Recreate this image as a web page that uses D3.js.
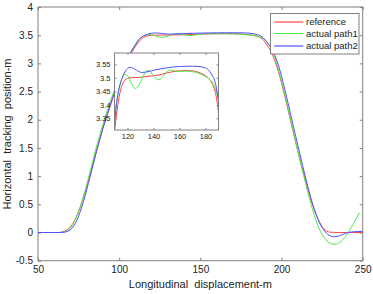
<!DOCTYPE html>
<html>
<head>
<meta charset="utf-8">
<script src="https://cdn.jsdelivr.net/npm/d3@7"></script>
<style>
  html, body { margin: 0; padding: 0; background: #fff; }
  text { font-family: Arial, "Liberation Sans", sans-serif; fill: #222; }
</style>
</head>
<body>
<svg id="chart" width="373" height="294"></svg>
<script>
// values
const refX = [50, 60, 63, 66, 70, 74, 78, 82, 86, 90, 94, 98, 102, 106, 110, 112, 114, 116, 118, 120, 122, 126, 130, 135, 140, 145, 150, 155, 160, 165, 170, 175, 180, 183, 185, 187, 189, 190, 192, 194, 198, 202, 206, 210, 214, 218, 222, 226, 230, 235, 240, 250];
const refY = [0, 0, 0, 0.02, 0.1, 0.3, 0.62, 1.02, 1.45, 1.85, 2.2, 2.55, 2.85, 3.1, 3.3, 3.38, 3.44, 3.475, 3.492, 3.498, 3.5, 3.501, 3.502, 3.505, 3.508, 3.512, 3.518, 3.523, 3.526, 3.527, 3.526, 3.52, 3.508, 3.495, 3.48, 3.455, 3.41, 3.37, 3.28, 3.18, 2.86, 2.42, 1.93, 1.45, 1.0, 0.6, 0.27, 0.07, 0.005, 0, 0, 0];

const path1X = [50, 60, 63, 66, 70, 74, 78, 82, 86, 90, 94, 98, 102, 106, 110, 112, 114, 116, 118, 120, 122, 124, 126, 128, 131, 133, 135, 137, 140, 143, 145, 148, 151, 153, 156, 160, 165, 170, 175, 180, 183, 185, 187, 189, 190, 192, 195, 198, 202, 206, 210, 214, 218, 222, 226, 230, 233, 236, 240, 244, 248];
const path1Y = [0, 0, 0, 0.01, 0.08, 0.3, 0.64, 1.07, 1.52, 1.92, 2.28, 2.6, 2.9, 3.14, 3.34, 3.42, 3.47, 3.5, 3.513, 3.508, 3.49, 3.47, 3.461, 3.468, 3.495, 3.515, 3.527, 3.525, 3.508, 3.493, 3.495, 3.51, 3.525, 3.529, 3.526, 3.524, 3.525, 3.523, 3.516, 3.505, 3.495, 3.485, 3.465, 3.44, 3.42, 3.34, 3.18, 2.9, 2.45, 1.95, 1.45, 0.97, 0.52, 0.15, -0.08, -0.19, -0.21, -0.17, -0.05, 0.14, 0.35];

const path2X = [50, 60, 63, 66, 70, 74, 78, 82, 86, 90, 94, 98, 102, 106, 110, 112, 114, 116, 118, 120, 122, 124, 127, 131, 135, 140, 145, 150, 155, 160, 165, 170, 175, 180, 183, 185, 187, 189, 190, 192, 195, 199, 203, 207, 211, 215, 219, 223, 227, 230, 232, 235, 238, 241, 245, 250];
const path2Y = [0, 0, 0, 0.005, 0.05, 0.22, 0.55, 0.98, 1.43, 1.85, 2.22, 2.56, 2.88, 3.14, 3.33, 3.42, 3.47, 3.5, 3.522, 3.535, 3.539, 3.537, 3.528, 3.52, 3.522, 3.528, 3.533, 3.537, 3.54, 3.542, 3.543, 3.543, 3.542, 3.537, 3.525, 3.51, 3.49, 3.445, 3.41, 3.34, 3.2, 2.88, 2.42, 1.92, 1.43, 0.95, 0.52, 0.2, 0.01, -0.06, -0.075, -0.065, -0.03, 0, 0.015, 0.02];

const seriesNames = ["reference", "actual path1", "actual path2"];
const seriesColors = ["#ff4646", "#48ea48", "#5252ff"];

const xTicks = [50, 100, 150, 200, 250];
const yTicks = [-0.5, 0, 0.5, 1, 1.5, 2, 2.5, 3, 3.5, 4];
const insetXTicks = [120, 140, 160, 180];
const insetYTicks = [3.35, 3.4, 3.45, 3.5, 3.55];

const series = [
  d3.zip(refX, refY),
  d3.zip(path1X, path1Y),
  d3.zip(path2X, path2Y)
];

var svg = d3.select("#chart");
const axisColor = "#808080";

let x = d3.scaleLinear().domain([50, 250]).range([38, 362.7]);
let y = d3.scaleLinear().domain([-0.5, 4]).range([260.7, 7]);

function fmt(d) { return String(d); }

// box ticks (inward), MATLAB style
function drawAxes(g, xs, ys, xt, yt, tickLen, fontSize, pad) {
  const [x0, x1] = xs.range();
  const [y0, y1] = ys.range();

  const bottom = g.append("g").attr("transform", `translate(0,${y0})`)
    .call(d3.axisBottom(xs).tickValues(xt).tickSize(-tickLen).tickPadding(pad).tickFormat(fmt));
  const top = g.append("g").attr("transform", `translate(0,${y1})`)
    .call(d3.axisTop(xs).tickValues(xt).tickSize(-tickLen).tickFormat(""));
  const left = g.append("g").attr("transform", `translate(${x0},0)`)
    .call(d3.axisLeft(ys).tickValues(yt).tickSize(-tickLen).tickPadding(pad).tickFormat(fmt));
  const right = g.append("g").attr("transform", `translate(${x1},0)`)
    .call(d3.axisRight(ys).tickValues(yt).tickSize(-tickLen).tickFormat(""));

  for (let a of [bottom, top, left, right]) {
    a.select(".domain").remove();
    a.selectAll("line").attr("stroke", axisColor);
    a.selectAll("text").attr("font-size", fontSize).attr("fill", "#222")
      .attr("font-family", "Arial, 'Liberation Sans', sans-serif");
  }

  g.append("rect")
    .attr("x", x0).attr("y", y1)
    .attr("width", x1 - x0).attr("height", y0 - y1)
    .attr("fill", "none").attr("stroke", axisColor).attr("stroke-width", 1);
}

// main plot
const mainG = svg.append("g");
drawAxes(mainG, x, y, xTicks, yTicks, 3, 10, 5);

let line = d3.line()
  .x(function (d) { return x(d[0]); })
  .y(function (d) { return y(d[1]); })
  .curve(d3.curveMonotoneX);

mainG.selectAll(".main-line")
  .data(series)
  .join("path")
  .attr("class", "main-line")
  .attr("d", line)
  .attr("fill", "none")
  .attr("stroke", function (d, i) { return seriesColors[i]; })
  .attr("stroke-width", 1);

// axis labels
svg.append("text")
  .attr("x", 200.4).attr("y", 287.5)
  .attr("text-anchor", "middle")
  .attr("font-size", 11)
  .style("white-space", "pre")
  .text("Longitudinal  displacement-m");

svg.append("text")
  .attr("transform", "translate(10.5,134) rotate(-90)")
  .attr("text-anchor", "middle")
  .attr("font-size", 11)
  .style("white-space", "pre")
  .text("Horizontal  tracking  position-m");

// inset
let xi = d3.scaleLinear().domain([110, 190]).range([114.5, 218.5]);
let yi = d3.scaleLinear().domain([3.307, 3.592]).range([130, 53]);

const insetG = svg.append("g");
insetG.append("rect")
  .attr("x", 114.5).attr("y", 53)
  .attr("width", 104).attr("height", 77)
  .attr("fill", "#fff");

svg.append("defs").append("clipPath")
  .attr("id", "insetClip")
  .append("rect")
  .attr("x", 114.5).attr("y", 53)
  .attr("width", 104).attr("height", 77);

let insetLine = d3.line()
  .x(function (d) { return xi(d[0]); })
  .y(function (d) { return yi(d[1]); })
  .curve(d3.curveMonotoneX);

insetG.append("g").attr("clip-path", "url(#insetClip)")
  .selectAll(".inset-line")
  .data(series)
  .join("path")
  .attr("class", "inset-line")
  .attr("d", insetLine)
  .attr("fill", "none")
  .attr("stroke", function (d, i) { return seriesColors[i]; })
  .attr("stroke-width", 1);

drawAxes(insetG, xi, yi, insetXTicks, insetYTicks, 2, 7.5, 4);

// legend
const legend = svg.append("g");
legend.append("rect")
  .attr("x", 270.5).attr("y", 13.5)
  .attr("width", 88.5).attr("height", 40.5)
  .attr("fill", "#fff").attr("stroke", axisColor);

const legendY = [21.5, 33.5, 45.5];
legend.selectAll(".leg-line")
  .data(seriesNames)
  .join("line")
  .attr("class", "leg-line")
  .attr("x1", 274.3).attr("x2", 303.3)
  .attr("y1", function (d, i) { return legendY[i] + (i == 1 ? 0 : 0.5); })
  .attr("y2", function (d, i) { return legendY[i] + (i == 1 ? 0 : 0.5); })
  .attr("stroke", function (d, i) { return seriesColors[i]; })
  .attr("stroke-opacity", function (d, i) { return i == 1 ? 1 : 0.6; })
  .attr("stroke-width", function (d, i) { return i == 1 ? 1 : 2; });

legend.selectAll(".leg-text")
  .data(seriesNames)
  .join("text")
  .attr("class", "leg-text")
  .attr("x", 306)
  .attr("y", function (d, i) { return legendY[i] + 3.5; })
  .attr("font-size", 9.5)
  .text(function (d) { return d; });
</script>
</body>
</html>
